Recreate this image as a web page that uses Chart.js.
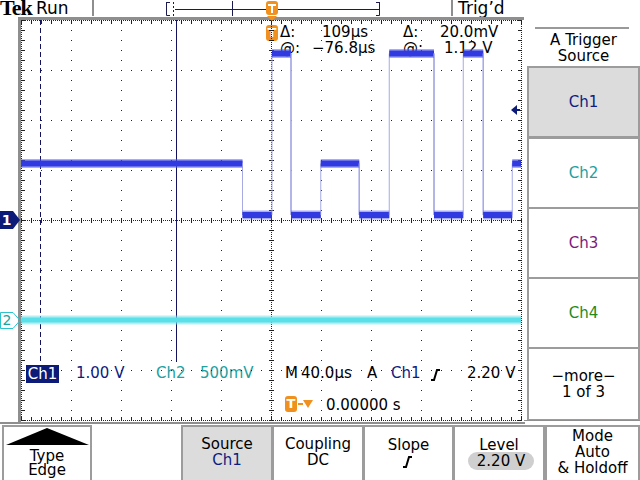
<!DOCTYPE html>
<html>
<head>
<meta charset="utf-8">
<script src="https://cdn.jsdelivr.net/npm/chart.js@4.4.1/dist/chart.umd.min.js"></script>
<style>
  body { margin: 0; background: #fff; }
  #wrap { position: relative; width: 640px; height: 480px; overflow: hidden;
          font-family: "DejaVu Sans", sans-serif; font-size: 15px; color: #000; }
  #wrap div { position: absolute; line-height: 1; white-space: pre; }
  #wrap .btn { box-sizing: border-box; border: 2px solid #9c9c9c; display: flex; flex-direction: column;
               align-items: center; justify-content: center; line-height: 16px; text-align: center; }
  #scope { position: absolute; left: 0; top: 0; }
  .c1 { color: #0f1c80; }
  .c2 { color: #23a0a0; }
</style>
</head>
<body>
<div id="wrap">
  <!-- top bar -->
  <div style="left:0;top:-3px;font-family:'Liberation Serif';font-weight:bold;font-size:22px;letter-spacing:-1px">Tek</div>
  <div style="left:36px;top:0;font-size:17px">Run</div>
  <div style="left:458px;top:0;font-size:17px">Trig’d</div>

  <!-- cursor readout -->
  <div style="left:266px;top:25px;width:12px;height:16px;background:#f0901e;color:#fff;font-weight:bold;font-size:13px;line-height:16px;text-align:center;border-radius:3px">T</div>
  <div style="left:280px;top:25px">Δ:</div>
  <div style="left:322px;top:25px">109µs</div>
  <div style="left:403px;top:25px">Δ:</div>
  <div style="left:440px;top:25px">20.0mV</div>
  <div style="left:280px;top:41px">@:</div>
  <div style="left:312px;top:41px">−76.8µs</div>
  <div style="left:403px;top:41px">@:</div>
  <div style="left:444px;top:41px">1.12 V</div>

  <!-- channel ground markers -->
  <div style="left:0;top:211px;width:13px;height:18px;background:#0c1a78;color:#fff;font-weight:bold;font-size:14px;line-height:18px;text-align:center">1</div>
  <div class="c2" style="left:1px;top:312px;width:12px;height:16px;font-size:14px;line-height:16px;text-align:center">2</div>

  <!-- bottom readout -->
  <div style="left:26px;top:365px;width:33px;height:18px;background:#0c1a78;color:#fff;line-height:18px;text-align:center">Ch1</div>
  <div class="c1" style="left:76px;top:366px">1.00 V</div>
  <div class="c2" style="left:156px;top:366px">Ch2</div>
  <div class="c2" style="left:200px;top:366px">500mV</div>
  <div style="left:285px;top:366px">M</div>
  <div style="left:301px;top:366px">40.0µs</div>
  <div style="left:367px;top:366px">A</div>
  <div class="c1" style="left:391px;top:366px">Ch1</div>
  <div style="left:467px;top:366px">2.20 V</div>
  <div style="left:285px;top:396px;width:12px;height:16px;background:#f0901e;color:#fff;font-weight:bold;font-size:13px;line-height:16px;text-align:center;border-radius:3px">T</div>
  <div style="left:326px;top:398px">0.00000 s</div>

  <!-- side menu -->
  <div style="left:535px;top:27px;width:94px;height:0;border-top:2px solid #999"></div>
  <div style="left:527px;top:32px;width:113px;text-align:center;line-height:16px">A Trigger
Source</div>
  <div class="btn c1" style="left:527px;top:66px;width:113px;height:72px;background:#dcdcdc">Ch1</div>
  <div class="btn c2" style="left:527px;top:137px;width:113px;height:72px">Ch2</div>
  <div class="btn" style="left:527px;top:207px;width:113px;height:72px;color:#7c1c7c">Ch3</div>
  <div class="btn" style="left:527px;top:277px;width:113px;height:72px;color:#1f8a1f">Ch4</div>
  <div class="btn" style="left:527px;top:347px;width:113px;height:74px">−more−
1 of 3</div>

  <!-- bottom menu -->
  <div class="btn" style="left:2px;top:425px;width:90px;height:57px;justify-content:flex-end;padding-bottom:3px;line-height:14px">Type
Edge</div>
  <div class="btn" style="left:181px;top:425px;width:92px;height:57px;background:#dcdcdc;padding-bottom:4px">Source
<span class="c1">Ch1</span></div>
  <div class="btn" style="left:272px;top:425px;width:92px;height:57px;padding-bottom:4px">Coupling
DC</div>
  <div class="btn" style="left:363px;top:425px;width:91px;height:57px;justify-content:flex-start;padding-top:10px">Slope</div>
  <div class="btn" style="left:453px;top:425px;width:92px;height:57px;justify-content:flex-start;padding-top:10px">Level</div>
  <div style="left:468px;top:452px;width:66px;height:18px;background:#cfcfcf;border-radius:9px;line-height:18px;text-align:center">2.20 V</div>
  <div class="btn" style="left:545px;top:425px;width:95px;height:57px;padding-bottom:4px">Mode
Auto
&amp; Holdoff</div>

  <canvas id="scope" width="640" height="480"></canvas>
</div>

<script>
// time axis (µs), 40 µs/div, trigger at 0
const timeMin = -200.8;
const timeMax = 199.2;
const timeDiv = 40;

// Ch1: 1.00 V/div, step levels between edge times
const ch1Edges = [-200.8, -23.6, 0, 15.2, 39.0, 69.8, 93.8, 129.6, 153.0, 169.0, 192.2, 199.2];
const ch1Levels = [1.13, 0.10, 3.33, 0.10, 1.13, 0.10, 3.33, 0.10, 3.33, 0.10, 1.13];

// Ch2: 500 mV/div, flat at ground
const ch2Edges = [-200.8, 199.2];
const ch2Levels = [0.0];

// cursors and trigger
const cursorTimes = [-185.8, -76.8];
const trigLevel = 2.20;

function steps(edges, levels) {
  const pts = [];
  levels.forEach((v, i) => {
    pts.push({ x: edges[i], y: v }, { x: edges[i + 1], y: v });
  });
  return pts;
}

const isEdge = c => c.p0.parsed.x === c.p1.parsed.x;

function trace(data, axis, color, width, edgeColor) {
  return {
    data: data,
    yAxisID: axis,
    borderColor: color,
    borderWidth: width,
    pointRadius: 0,
    tension: 0,
    borderCapStyle: 'butt',
    segment: {
      borderColor: c => isEdge(c) ? edgeColor : color,
      borderWidth: c => isEdge(c) ? 1 : width
    }
  };
}

function tri(ctx, pts, color) {
  ctx.fillStyle = color;
  ctx.beginPath();
  ctx.moveTo(pts[0], pts[1]);
  for (let i = 2; i < pts.length; i += 2) ctx.lineTo(pts[i], pts[i + 1]);
  ctx.closePath();
  ctx.fill();
}

function slopeIcon(ctx, x, y) {
  ctx.strokeStyle = '#000';
  ctx.lineWidth = 2;
  ctx.beginPath();
  ctx.moveTo(x, y + 11);
  ctx.lineTo(x + 3, y + 11);
  ctx.lineTo(x + 6, y + 1);
  ctx.lineTo(x + 9, y + 1);
  ctx.stroke();
}

const scopePlugin = {
  id: 'scope',
  beforeDatasetsDraw(chart) {
    const { ctx, chartArea: a, scales: { x, y1 } } = chart;
    const L = Math.round(a.left), R = Math.round(a.right), T = Math.round(a.top), B = Math.round(a.bottom);
    ctx.save();

    // frame
    ctx.fillStyle = '#8e8e8e';
    ctx.fillRect(18, 17, 3, B - 17 + 3);
    ctx.fillRect(18, 17, R - 18 + 3, 3);
    ctx.fillRect(0, B + 2, R + 4, 2);
    ctx.fillRect(R + 3, 420, 640 - R - 3, 1);
    ctx.fillRect(92, 0, 2, 16);
    ctx.fillRect(451, 0, 2, 16);

    ctx.fillStyle = '#222';
    // vertical division lines
    for (let i = 0; i <= 10; i++) {
      const px = Math.min(Math.round(x.getPixelForValue(timeMin + i * timeDiv)), R);
      const centre = i === 5;
      const edge = i === 0 || i === 10;
      for (let py = T; py <= B; py += (centre || edge) ? 2 : 10) ctx.fillRect(px, py, 1, 1);
      for (let py = T; py <= B; py += 10) {
        if (centre) ctx.fillRect(px - 2, py, 5, 1);
        if (i === 0) ctx.fillRect(px, py, 4, 1);
        if (i === 10) ctx.fillRect(px - 3, py, 4, 1);
      }
    }
    // horizontal division lines
    for (let v = -4; v <= 4; v++) {
      const py = Math.min(Math.round(y1.getPixelForValue(v)), B);
      const centre = v === 0;
      const edge = v === 4 || v === -4;
      for (let px = L; px <= R; px += (centre || edge) ? 2 : 10) ctx.fillRect(px, py, 1, 1);
      for (let px = L; px <= R; px += 10) {
        if (centre) ctx.fillRect(px, py - 2, 1, 5);
        if (v === 4) ctx.fillRect(px, py, 1, 4);
        if (v === -4) ctx.fillRect(px, py - 3, 1, 4);
      }
    }

    // time cursors
    ctx.strokeStyle = '#14145e';
    ctx.lineWidth = 1;
    cursorTimes.forEach((t, i) => {
      const px = Math.round(x.getPixelForValue(t)) + 0.5;
      ctx.setLineDash(i === 0 ? [5, 3] : []);
      ctx.beginPath();
      ctx.moveTo(px, T);
      ctx.lineTo(px, 362);
      ctx.stroke();
    });
    ctx.setLineDash([]);
    ctx.restore();
  },
  afterDatasetsDraw(chart) {
    const { ctx, scales: { x, y1, y2 } } = chart;
    ctx.save();
    const tx = Math.round(x.getPixelForValue(0));

    // record bar
    ctx.strokeStyle = '#1a1a50';
    ctx.lineWidth = 1;
    ctx.beginPath();
    ctx.moveTo(166.5, 2); ctx.lineTo(166.5, 15.5); ctx.lineTo(170, 15.5);
    ctx.moveTo(170, 2.5); ctx.lineTo(166.5, 2.5);
    ctx.moveTo(379.5, 2); ctx.lineTo(379.5, 15.5); ctx.lineTo(376, 15.5);
    ctx.moveTo(376, 2.5); ctx.lineTo(379.5, 2.5);
    ctx.moveTo(175, 9.5); ctx.lineTo(379, 9.5);
    ctx.moveTo(232.5, 1); ctx.lineTo(232.5, 16);
    ctx.stroke();
    ctx.setLineDash([2, 2]);
    ctx.beginPath();
    ctx.moveTo(173.5, 2); ctx.lineTo(173.5, 16);
    ctx.stroke();
    ctx.setLineDash([]);

    // trigger position markers
    ctx.fillStyle = '#f0901e';
    ctx.beginPath();
    ctx.roundRect(tx - 6, 1, 12, 14, 3);
    ctx.fill();
    ctx.fillStyle = '#fff';
    ctx.fillRect(tx - 4, 4, 8, 2);
    ctx.fillRect(tx - 1, 4, 2, 9);
    tri(ctx, [tx - 5, 16, tx + 5, 16, tx, 21], '#f0901e');
    // readout T -> arrow
    ctx.fillStyle = '#f0901e';
    ctx.fillRect(298, 403, 5, 2);
    tri(ctx, [303, 400, 313, 400, 308, 408], '#f0901e');

    // ch1 ground marker tip, ch2 marker outline
    const g1 = Math.round(y1.getPixelForValue(0));
    tri(ctx, [13, g1 - 9, 20, g1, 13, g1 + 9], '#0c1a78');
    const g2 = Math.round(y2.getPixelForValue(0)) + 0.5;
    ctx.strokeStyle = '#2bc4cc';
    ctx.lineWidth = 1;
    ctx.beginPath();
    ctx.moveTo(0.5, g2 - 8); ctx.lineTo(13, g2 - 8); ctx.lineTo(20, g2);
    ctx.lineTo(13, g2 + 8); ctx.lineTo(0.5, g2 + 8); ctx.closePath();
    ctx.stroke();

    // trigger level arrow
    const ty = Math.round(y1.getPixelForValue(trigLevel));
    tri(ctx, [511, ty, 517, ty - 5, 517, ty + 5], '#0c1a78');
    ctx.fillStyle = '#0c1a78';
    ctx.fillRect(516, ty - 1, 4, 2);

    // slope symbols
    slopeIcon(ctx, 431, 369);
    slopeIcon(ctx, 403, 456);

    // Type button arrow
    tri(ctx, [6, 445, 47, 428, 89, 445], '#000');
    ctx.restore();
  }
};

new Chart(document.getElementById('scope'), {
  type: 'line',
  data: {
    datasets: [
      trace(steps(ch2Edges, ch2Levels), 'y2', 'rgba(120,225,235,0.55)', 9, 'rgba(0,0,0,0)'),
      trace(steps(ch2Edges, ch2Levels), 'y2', '#36dde5', 5, 'rgba(0,0,0,0)'),
      trace(steps(ch1Edges, ch1Levels), 'y1', 'rgba(80,90,235,0.5)', 9, 'rgba(0,0,0,0)'),
      trace(steps(ch1Edges, ch1Levels), 'y1', '#1218d4', 6, '#a7abe4')
    ]
  },
  options: {
    responsive: false,
    animation: false,
    layout: { padding: { left: 21, top: 20, right: 119, bottom: 60 } },
    plugins: { legend: { display: false }, tooltip: { enabled: false } },
    scales: {
      x: { type: 'linear', min: timeMin, max: timeMax, display: false },
      y1: { min: -4, max: 4, display: false },
      y2: { min: -1, max: 3, display: false }
    }
  },
  plugins: [scopePlugin]
});
</script>
</body>
</html>
